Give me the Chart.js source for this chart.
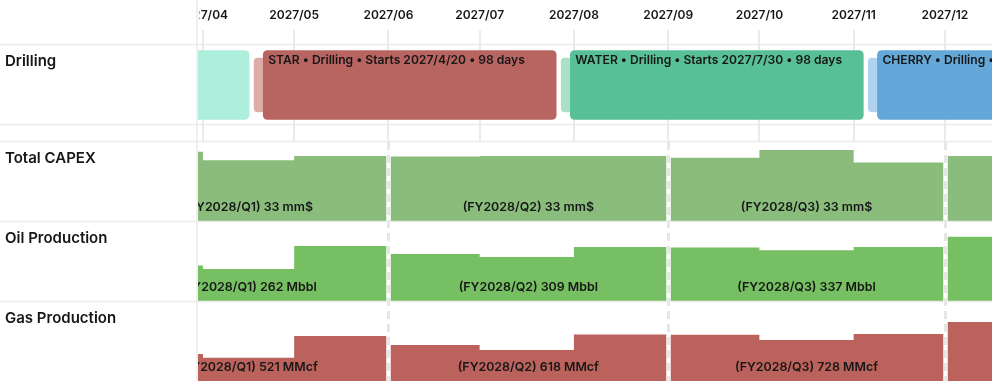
<!DOCTYPE html>
<html><head><meta charset="utf-8">
<script src="https://cdn.jsdelivr.net/npm/chart.js@4.4.1/dist/chart.umd.min.js"></script>
<style>html,body{margin:0;padding:0;background:#fff;overflow:hidden}#wrap{width:992px;height:382px;position:relative}</style>
</head><body><div id="wrap"><canvas id="c" width="992" height="382"></canvas></div>
<script>
// ---------- data ----------
const months = ['2027-03','2027-04','2027-05','2027-06','2027-07','2027-08','2027-09','2027-10','2027-11','2027-12'];
const capex = [11.7, 10.3, 11.0, 10.9, 11.0, 11.0, 10.7, 12.0, 9.9, 11.0];     // mm$
const oil   = [76, 69, 117, 100, 94, 115, 114, 108, 115, 136];                   // Mbbl
const gas   = [149, 128, 244, 196, 170, 252, 250, 223, 255, 318];                // MMcf
const quarterNames  = ['FY2028/Q1', 'FY2028/Q2', 'FY2028/Q3', 'FY2028/Q4'];
const quarterStarts = ['2027-03', '2027-06', '2027-09', '2027-12'];
const tickLabels = ['2027/04','2027/05','2027/06','2027/07','2027/08','2027/09','2027/10','2027/11','2027/12'];
const rowLabels = ['Drilling', 'Total CAPEX', 'Oil Production', 'Gas Production'];
const wellNames  = ['', 'STAR', 'WATER', 'CHERRY'];
const wellStarts = ['2027-01-09', '2027-04-20', '2027-07-30', '2027-11-08'];
const wellDays   = [98, 98, 98, 98];
const moveStarts = ['2027-04-17', '2027-07-27', '2027-11-05'];
const moveEnds   = ['2027-04-22', '2027-08-01', '2027-11-10'];

// ---------- styles ----------
const wellColors = ['#aeeedc', '#b86461', '#57c096', '#64a7d9'];
const moveColors = ['#ddaea9', '#a9e0c6', '#b1d3ef'];
const GRID = '#ebebeb';
const TEXT = '#161616';
const FONT = 'Inter, "Noto Sans", sans-serif';

// ---------- helpers ----------
const EPOCH = Date.UTC(2027, 0, 1);
function day(s) {
  const p = s.split(/[-\/]/).map(Number);
  return (Date.UTC(p[0], p[1] - 1, p[2] || 1) - EPOCH) / 86400000;
}
function addMonths(s, n) {
  const p = s.split('-').map(Number);
  const d = new Date(Date.UTC(p[0], p[1] - 1 + n, 1));
  return d.getUTCFullYear() + '-' + String(d.getUTCMonth() + 1).padStart(2, '0');
}
function fmtDate(s) { const p = s.split('-').map(Number); return p[0] + '/' + p[1] + '/' + p[2]; }
function stepPoints(vals) {
  const pts = months.map((m, i) => ({ x: day(m), y: vals[i] }));
  pts.push({ x: day(addMonths(months[months.length - 1], 1)), y: vals[vals.length - 1] });
  return pts;
}
const X_MIN = day('2027-03-30') + 0.375;
const X_MAX = day('2027-12-16') + 0.5;

const hiddenY = (extra) => Object.assign({
  position: 'left', stack: 'rows', display: true,
  ticks: { display: false }, grid: { display: false, drawTicks: false, offset: false }, border: { display: false },
  afterFit: s => { s.width = 0; }
}, extra);

const lowerRows = [
  { axis: 'yCapex', vals: capex, unit: 'mm$' },
  { axis: 'yOil', vals: oil, unit: 'Mbbl' },
  { axis: 'yGas', vals: gas, unit: 'MMcf' }
];

const decorPlugin = {
  id: 'decor',
  beforeDatasetsDraw(chart) {
    const { ctx, chartArea, scales } = chart;
    const x = scales.x;
    ctx.save();
    ctx.strokeStyle = GRID; ctx.lineWidth = 2;
    x.ticks.forEach(t => {
      const px = Math.round(x.getPixelForValue(t.value));
      ctx.beginPath(); ctx.moveTo(px, chartArea.top); ctx.lineTo(px, scales.ySpacer.bottom); ctx.stroke();
    });
    ctx.restore();
  },
  afterDatasetsDraw(chart) {
    const { ctx, chartArea, scales } = chart;
    const x = scales.x;
    const lowTop = scales.yCapex.top, lowBottom = scales.yGas.bottom;
    ctx.save();
    ctx.beginPath(); ctx.rect(chartArea.left, 0, chartArea.right - chartArea.left, chart.height); ctx.clip();
    // quarter boundaries
    quarterStarts.forEach(q => {
      const px = Math.round(x.getPixelForValue(day(q))) + 0.5;
      ctx.fillStyle = '#fff';
      ctx.fillRect(px - 2.25, lowTop, 4.5, lowBottom - lowTop);
      ctx.strokeStyle = '#e6e6e6'; ctx.lineWidth = 3; ctx.setLineDash([8, 5]);
      ctx.beginPath(); ctx.moveTo(px, lowTop); ctx.lineTo(px, lowBottom); ctx.stroke();
      ctx.setLineDash([]);
    });
    // quarter totals
    ctx.fillStyle = TEXT; ctx.font = '600 12.4px ' + FONT; ctx.textAlign = 'center'; ctx.textBaseline = 'middle';
    quarterStarts.forEach((q, qi) => {
      const qs = day(q), qe = day(addMonths(q, 3));
      const idx = months.map((m, i) => i).filter(i => day(months[i]) >= qs && day(months[i]) < qe);
      if (idx.length < 3) return;
      const cx = (x.getPixelForValue(qs) + x.getPixelForValue(qe)) / 2;
      lowerRows.forEach(r => {
        const sum = idx.reduce((a, i) => a + r.vals[i], 0);
        ctx.fillText('(' + quarterNames[qi] + ') ' + Math.round(sum) + ' ' + r.unit, cx, scales[r.axis].bottom - 15);
      });
    });
    // drilling labels
    ctx.textAlign = 'left'; ctx.font = '600 12.1px ' + FONT;
    chart.getDatasetMeta(0).data.forEach((el, i) => {
      if (!wellNames[i] || day(wellStarts[i]) < X_MIN) return;
      const p = el.getProps(['x', 'y', 'base', 'height'], true);
      const left = Math.min(p.x, p.base);
      const top = p.y - p.height / 2;
      ctx.fillText(wellNames[i] + ' • Drilling • Starts ' + fmtDate(wellStarts[i]) + ' • ' + wellDays[i] + ' days', left + 7.5, top + 12.5);
    });
    ctx.restore();
  },
  afterDraw(chart) {
    const { ctx, chartArea, scales } = chart;
    ctx.save();
    ctx.fillStyle = '#fff';
    ctx.fillRect(0, 0, chartArea.left + 1.5, chartArea.top - 16);
    ctx.strokeStyle = GRID; ctx.lineWidth = 1.5;
    ['yDrill', 'ySpacer', 'yCapex', 'yOil', 'yGas'].forEach(id => {
      const y = scales[id].top - 0.5;
      ctx.beginPath(); ctx.moveTo(0, y); ctx.lineTo(chart.width, y); ctx.stroke();
    });
    ctx.beginPath(); ctx.moveTo(chartArea.left - 1, 0); ctx.lineTo(chartArea.left - 1, chart.height); ctx.stroke();
    ctx.fillStyle = TEXT; ctx.font = '600 15px ' + FONT; ctx.textAlign = 'left'; ctx.textBaseline = 'alphabetic';
    ['yDrill', 'yCapex', 'yOil', 'yGas'].forEach((id, i) => {
      ctx.fillText(rowLabels[i], 5, scales[id].top + 21);
    });
    ctx.restore();
  }
};

new Chart(document.getElementById('c'), {
  type: 'bar',
  data: {
    datasets: [
      {
        label: 'Drilling', indexAxis: 'y', xAxisID: 'x', yAxisID: 'yDrill', grouped: false, order: 1,
        data: wellStarts.map((s, i) => ({ x: [day(s), day(s) + wellDays[i]], y: 'Drilling' })),
        backgroundColor: wellColors, borderColor: 'rgba(0,0,0,0)', borderWidth: 2.5, borderSkipped: false,
        borderRadius: 7, barThickness: 74
      },
      {
        label: 'Move', indexAxis: 'y', xAxisID: 'x', yAxisID: 'yDrill', grouped: false, order: 2,
        data: moveStarts.map((s, i) => ({ x: [day(s), day(moveEnds[i])], y: 'Drilling' })),
        backgroundColor: moveColors, borderColor: 'rgba(0,0,0,0)', borderWidth: 2.5, borderSkipped: false,
        borderRadius: 6.5, barThickness: 59
      },
      { type: 'line', label: 'Total CAPEX', xAxisID: 'x', yAxisID: 'yCapex', order: 3, data: stepPoints(capex),
        stepped: true, fill: 'origin', backgroundColor: '#8abd7b', borderColor: 'rgba(0,0,0,0)', borderWidth: 0, pointRadius: 0 },
      { type: 'line', label: 'Oil Production', xAxisID: 'x', yAxisID: 'yOil', order: 3, data: stepPoints(oil),
        stepped: true, fill: 'origin', backgroundColor: '#77bf63', borderColor: 'rgba(0,0,0,0)', borderWidth: 0, pointRadius: 0 },
      { type: 'line', label: 'Gas Production', xAxisID: 'x', yAxisID: 'yGas', order: 3, data: stepPoints(gas),
        stepped: true, fill: 'origin', backgroundColor: '#bc625c', borderColor: 'rgba(0,0,0,0)', borderWidth: 0, pointRadius: 0 }
    ]
  },
  options: {
    responsive: false, animation: false, devicePixelRatio: 1,
    layout: { padding: { left: 198, top: 0, right: 0, bottom: 0 } },
    plugins: { legend: { display: false }, tooltip: { enabled: false } },
    events: [],
    scales: {
      x: {
        type: 'linear', position: 'top', min: X_MIN, max: X_MAX, offset: false,
        afterBuildTicks: s => { s.ticks = tickLabels.map(l => ({ value: day(l) })); },
        afterFit: s => { s.height = 45; },
        ticks: { autoSkip: false, maxRotation: 0, padding: 7, color: TEXT,
                 font: { family: FONT, size: 12, weight: '600' }, callback: (v, i) => tickLabels[i] },
        grid: { drawOnChartArea: false, drawTicks: true, tickLength: 15, color: GRID, lineWidth: 2, offset: false },
        border: { display: false }
      },
      yDrill: hiddenY({ type: 'category', labels: ['Drilling'], offset: true, stackWeight: 80, weight: 5 }),
      ySpacer: hiddenY({ type: 'linear', min: 0, max: 1, stackWeight: 17, weight: 4 }),
      yCapex: hiddenY({ type: 'linear', min: 0, max: 13.33, stackWeight: 80, weight: 3 }),
      yOil: hiddenY({ type: 'linear', min: 0, max: 167, stackWeight: 80, weight: 2 }),
      yGas: hiddenY({ type: 'linear', min: 0, max: 424, stackWeight: 80, weight: 1 })
    }
  },
  plugins: [decorPlugin]
});
</script></body></html>
